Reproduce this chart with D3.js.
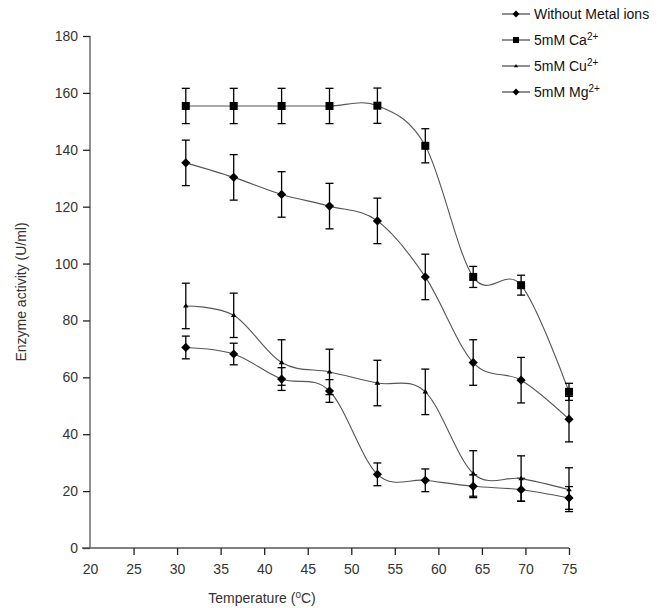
<!DOCTYPE html>
<html>
<head>
<meta charset="utf-8">
<script src="https://cdn.jsdelivr.net/npm/d3@7"></script>
<style>
  body { margin: 0; background: #fff; }
  svg { font-family: "Liberation Sans", Arial, sans-serif; }
</style>
</head>
<body>
<div id="chart"></div>
<script>
// Temperatures the samples were measured at
const temps = [30, 35, 40, 45, 50, 55, 60, 65, 70];
// Tick labels printed under the x axis (Excel category labels)
const xTickLabels = ["20", "25", "30", "35", "40", "45", "50", "55", "60", "65", "70", "75"];

// Series values (U/ml) and their error bars
const withoutIons = [70.5, 68.2, 59.4, 55.2, 25.9, 23.8, 21.7, 20.5, 17.6];
const withoutErr = [4, 3.8, 4, 4, 4, 4, 4, 4, 4];
const ca = [155.4, 155.4, 155.4, 155.4, 155.5, 141.4, 95.3, 92.4, 54.9];
const caErr = [6.2, 6.2, 6.2, 6.2, 6.2, 6, 3.7, 3.5, 3];
const cu = [85.1, 81.8, 65.2, 61.9, 58, 54.9, 26.2, 24.4, 20.5];
const cuErr = [8, 7.8, 8, 8, 8, 8, 8, 8, 7.7];
const mg = [135.4, 130.3, 124.3, 120.2, 115, 95.3, 65.2, 59, 45.3];
const mgErr = [8, 8, 8, 8, 8, 8, 8, 8, 8];

const series = [
  { name: "Without Metal ions", sup: "", values: withoutIons, err: withoutErr, symbol: "diamond" },
  { name: "5mM Ca", sup: "2+", values: ca, err: caErr, symbol: "square" },
  { name: "5mM Cu", sup: "2+", values: cu, err: cuErr, symbol: "triangle" },
  { name: "5mM Mg", sup: "2+", values: mg, err: mgErr, symbol: "diamond" }
];

const width = 668, height = 608;
const plot = { left: 90, right: 569, top: 36, bottom: 548 };

const svg = d3.select("#chart").append("svg")
  .attr("width", width)
  .attr("height", height);

// data scale: the points sit 20..70 across the axis length
const x = d3.scaleLinear().domain([20, 70]).range([plot.left, plot.right]);
// axis labels are spread evenly over the same length
const xLabels = d3.scalePoint().domain(xTickLabels).range([plot.left, plot.right]);
const y = d3.scaleLinear().domain([0, 180]).range([plot.bottom, plot.top]);

// y axis
const yAxis = svg.append("g")
  .attr("transform", `translate(${plot.left},0)`)
  .call(d3.axisLeft(y).tickValues(d3.range(0, 181, 20)).tickSize(7).tickPadding(5).tickSizeOuter(0));

// x axis
const xAxis = svg.append("g")
  .attr("transform", `translate(0,${plot.bottom})`)
  .call(d3.axisBottom(xLabels).tickSize(7).tickPadding(9).tickSizeOuter(0));

[yAxis, xAxis].forEach(g => {
  g.select(".domain").attr("stroke", "#555").attr("stroke-width", 1.3);
  g.selectAll(".tick line").attr("stroke", "#222").attr("stroke-width", 1.3);
  g.selectAll(".tick text")
    .attr("fill", "#333")
    .style("font-size", "14px")
    .style("font-family", "Liberation Sans, Arial, sans-serif");
});
yAxis.select(".domain").attr("d", `M0,${plot.top}V${plot.bottom}`);
xAxis.select(".domain").attr("d", `M${plot.left - 8},0H${plot.right}`);
xAxis.selectAll(".tick").filter(d => d === "20").select("line").remove();

// axis titles
svg.append("text")
  .attr("transform", `translate(26,${(plot.top + plot.bottom) / 2}) rotate(-90)`)
  .attr("text-anchor", "middle")
  .style("font-size", "14px")
  .attr("fill", "#333")
  .text("Enzyme activity (U/ml)");

const xTitle = svg.append("text")
  .attr("x", 262)
  .attr("y", 603)
  .attr("text-anchor", "middle")
  .style("font-size", "14px")
  .attr("fill", "#333");
xTitle.append("tspan").text("Temperature (");
xTitle.append("tspan").attr("dy", -5).style("font-size", "10px").text("o");
xTitle.append("tspan").attr("dy", 5).text("C)");

// markers
function drawSymbol(g, kind, cx, cy, r) {
  if (kind === "square") {
    g.append("rect").attr("x", cx - r).attr("y", cy - r)
      .attr("width", 2 * r).attr("height", 2 * r).attr("fill", "#000");
  } else if (kind === "diamond") {
    const d = r * 1.15;
    g.append("path").attr("d", `M${cx},${cy - d}L${cx + d},${cy}L${cx},${cy + d}L${cx - d},${cy}Z`)
      .attr("fill", "#000");
  } else {
    const t = r * 0.7;
    g.append("path").attr("d", `M${cx},${cy - t}L${cx + t},${cy + t * 0.6}L${cx - t},${cy + t * 0.6}Z`)
      .attr("fill", "#000");
  }
}

const line = d3.line()
  .x((d, i) => x(temps[i]))
  .y(d => y(d))
  .curve(d3.curveCatmullRom.alpha(0));

series.forEach(s => {
  const g = svg.append("g");

  g.append("path")
    .attr("d", line(s.values))
    .attr("fill", "none")
    .attr("stroke", "#555")
    .attr("stroke-width", 1.1);

  // error bars
  s.values.forEach((v, i) => {
    const cx = x(temps[i]);
    const y1 = y(v + s.err[i]), y2 = y(v - s.err[i]);
    g.append("line").attr("x1", cx).attr("x2", cx).attr("y1", y1).attr("y2", y2)
      .attr("stroke", "#000").attr("stroke-width", 1.3);
    [y1, y2].forEach(yy => {
      g.append("line").attr("x1", cx - 4).attr("x2", cx + 4).attr("y1", yy).attr("y2", yy)
        .attr("stroke", "#000").attr("stroke-width", 1.3);
    });
  });

  s.values.forEach((v, i) => drawSymbol(g, s.symbol, x(temps[i]), y(v), 4));
});

// legend
const legend = svg.append("g").attr("transform", "translate(502,14)");
series.forEach((s, i) => {
  const row = legend.append("g").attr("transform", `translate(0,${i * 26})`);
  row.append("line").attr("x1", 0).attr("x2", 28).attr("y1", 0).attr("y2", 0)
    .attr("stroke", "#444").attr("stroke-width", 1.2);
  drawSymbol(row, s.symbol, 14, 0, 3);
  const t = row.append("text")
    .attr("x", 32)
    .attr("y", 5)
    .style("font-size", "14px")
    .attr("fill", "#111");
  t.append("tspan").text(s.name);
  if (s.sup) t.append("tspan").attr("dy", -5).style("font-size", "10px").text(s.sup);
});
</script>
</body>
</html>
